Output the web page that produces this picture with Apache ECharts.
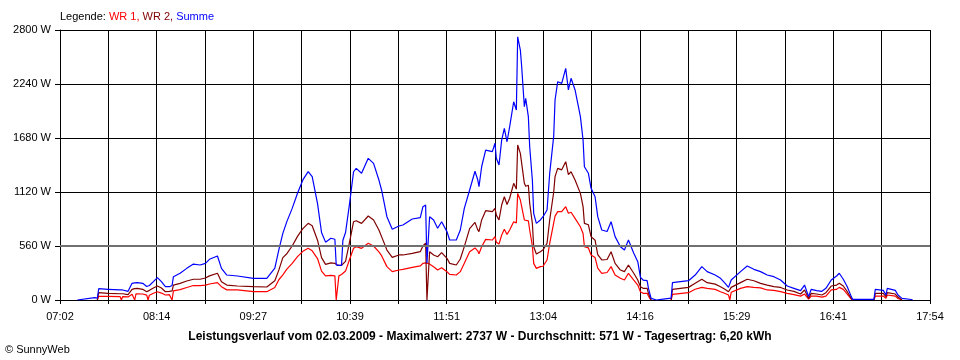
<!DOCTYPE html>
<html>
<head>
<meta charset="utf-8">
<script src="https://cdn.jsdelivr.net/npm/echarts@6/dist/echarts.min.js"></script>
<style>html,body{margin:0;padding:0;background:#fff;}#c{width:960px;height:360px;}</style>
</head>
<body>
<div id="c"></div>
<script>
const xTickLabels = ['07:02','08:14','09:27','10:39','11:51','13:04','14:16','15:29','16:41','17:54'];
const yTicks = [0, 560, 1120, 1680, 2240, 2800];

const times = ['07:15','07:28','07:30','07:31','07:38','07:47','07:48','07:49','07:53','07:56','07:58','07:59','08:00','08:04','08:07','08:08','08:09','08:12','08:15','08:18','08:21','08:24','08:25','08:26','08:27','08:32','08:37','08:42','08:47','08:51','08:54','09:00','09:03','09:07','09:15','09:27','09:37','09:38','09:43','09:46','09:49','09:52','09:56','10:00','10:04','10:08','10:11','10:15','10:18','10:21','10:25','10:28','10:29','10:30','10:31','10:33','10:34','10:36','10:39','10:42','10:44','10:48','10:53','10:57','11:01','11:03','11:07','11:11','11:16','11:19','11:26','11:32','11:34','11:36','11:37','11:38','11:39','11:42','11:45','11:48','11:52','11:54','11:59','12:02','12:05','12:09','12:13','12:15','12:16','12:18','12:21','12:26','12:28','12:29','12:31','12:33','12:35','12:37','12:39','12:42','12:44','12:45','12:47','12:48','12:50','12:51','12:53','12:54','12:56','12:57','12:59','13:02','13:04','13:07','13:09','13:12','13:13','13:15','13:18','13:21','13:23','13:25','13:28','13:32','13:34','13:35','13:38','13:40','13:43','13:45','13:48','13:52','13:55','13:58','14:02','14:05','14:08','14:12','14:15','14:17','14:19','14:22','14:23','14:24','14:25','14:29','14:34','14:40','14:41','14:53','14:58','15:03','15:07','15:13','15:17','15:20','15:23','15:24','15:25','15:32','15:37','15:42','15:47','15:52','15:57','16:02','16:07','16:12','16:17','16:20','16:23','16:25','16:29','16:33','16:36','16:40','16:44','16:46','16:49','16:52','16:55','16:56','17:00','17:12','17:13','17:19','17:21','17:22','17:28','17:30','17:33','17:40','17:41'];

const summe = [0,24,20,117,111,104,104,104,90,173,178,180,180,173,140,121,150,190,232,190,138,138,140,150,242,277,328,373,363,380,422,456,328,259,249,225,225,225,330,520,691,813,950,1107,1245,1331,1280,1000,700,600,640,630,365,360,360,360,620,700,1000,1330,1365,1314,1469,1417,1244,1141,864,733,767,778,840,854,968,985,385,380,864,830,744,812,709,622,622,726,950,1141,1335,1250,1175,1382,1555,1538,1625,1469,1400,1659,1780,1641,1797,2056,1970,2730,2592,2419,2004,2091,1901,1590,1244,899,795,830,864,933,1314,1700,2074,2264,2247,2402,2178,2299,2178,1901,1659,1382,1314,1158,1071,864,726,710,812,657,553,518,622,484,397,235,207,200,121,138,17,0,10,20,180,200,259,346,294,259,225,180,131,140,207,294,353,318,294,259,242,207,145,121,97,155,35,111,97,90,121,207,249,277,215,138,35,7,7,7,111,100,52,121,100,52,17,5,0];

const wr2 = [null,null,0,76,68,65,65,65,55,111,118,121,121,111,85,76,100,125,145,125,86,90,90,95,155,173,197,215,215,228,250,277,190,155,145,138,135,138,200,310,440,480,560,660,740,795,770,620,440,370,385,380,365,360,360,360,355,400,600,812,822,795,871,830,726,657,518,442,467,467,484,501,560,590,0,0,501,467,449,491,432,380,363,425,553,740,805,730,709,830,926,916,951,880,830,985,1071,990,1055,1210,1150,1607,1521,1417,1210,1180,1190,1003,795,553,477,501,520,588,830,1120,1279,1365,1350,1434,1300,1330,1244,1106,968,795,780,657,620,470,415,420,501,380,311,294,363,277,207,138,121,121,69,69,0,null,null,0,111,131,173,215,180,165,138,115,86,86,131,180,215,200,173,155,138,130,104,90,62,104,17,69,62,52,76,145,155,173,145,86,17,0,null,0,69,69,35,76,62,30,0,null,null];

const wr1 = [null,null,0,38,38,36,0,36,32,59,0,65,69,62,50,0,50,70,86,72,52,55,55,0,95,108,130,150,150,155,166,180,138,105,104,86,86,86,130,210,260,320,380,450,505,536,510,430,300,250,255,250,0,0,250,265,270,300,420,536,553,536,588,560,500,460,346,294,311,318,339,353,380,385,385,380,363,345,311,335,294,266,259,294,380,501,540,510,480,553,629,622,657,600,580,674,733,680,726,812,800,1106,1037,968,830,810,820,726,560,380,328,346,350,415,588,800,870,916,916,968,900,910,847,760,690,553,540,467,440,330,277,285,346,260,225,207,277,207,155,86,69,69,41,17,0,null,null,0,59,76,111,131,120,110,86,70,52,0,80,121,138,130,125,104,100,86,69,55,40,62,10,40,40,30,40,104,110,131,110,62,10,0,null,0,41,41,17,52,40,15,0,null,null];

function toMin(t){const p=t.split(':');return (+p[0])*60+(+p[1]);}
const t0 = toMin(xTickLabels[0]);
const t1 = toMin(xTickLabels[xTickLabels.length-1]);
const steps = (xTickLabels.length-1)*2;
function toX(t){return (toMin(t)-t0)*steps/(t1-t0);}
function build(arr){return times.map((t,i)=>[toX(t), arr[i]===null?'-':arr[i]]);}

const FONT = 'Liberation Sans, Arial, sans-serif';
const chart = echarts.init(document.getElementById('c'), null, {renderer:'canvas'});
chart.setOption({
  animation:false,
  backgroundColor:'#fff',
  title:[
    {left:60, top:11, padding:0, text:'{k|Legende: }{r|WR 1, }{d|WR 2, }{b|Summe}',
     textStyle:{fontFamily:FONT, fontSize:11, fontWeight:'normal', rich:{
       k:{color:'#000',fontFamily:FONT,fontSize:11},
       r:{color:'#ff0000',fontFamily:FONT,fontSize:11},
       d:{color:'#800000',fontFamily:FONT,fontSize:11},
       b:{color:'#0000ff',fontFamily:FONT,fontSize:11}}}},
    {left:'center', top:331, padding:0, text:'Leistungsverlauf vom 02.03.2009 - Maximalwert: 2737 W - Durchschnitt: 571 W - Tagesertrag: 6,20 kWh',
     textStyle:{fontFamily:FONT, fontSize:12, fontWeight:'bold', color:'#000'}},
    {left:5, top:344, padding:0, text:'© SunnyWeb', textStyle:{fontFamily:FONT, fontSize:11, fontWeight:'normal', color:'#000'}}
  ],
  grid:{left:60, top:30, width:870, height:270, containLabel:false},
  xAxis:{type:'value', min:0, max:steps, interval:1,
    axisLine:{show:true, lineStyle:{color:'#000', width:1}},
    axisTick:{show:true, length:4, lineStyle:{color:'#000'}},
    axisLabel:{margin:11, color:'#000', fontFamily:FONT, fontSize:11,
      formatter:function(v){const i=Math.round(v); return i%2===0 ? xTickLabels[i/2] : '';}},
    splitLine:{show:true, lineStyle:{color:'#000', width:1}}},
  yAxis:{type:'value', min:yTicks[0], max:yTicks[yTicks.length-1], interval:yTicks[1]-yTicks[0],
    axisLine:{show:true, lineStyle:{color:'#000', width:1}},
    axisTick:{show:true, length:5, lineStyle:{color:'#000'}},
    axisLabel:{margin:9, color:'#000', fontFamily:FONT, fontSize:11, formatter:function(v){return String(Math.round(v))+' W';}},
    splitLine:{show:true, lineStyle:{color:'#000', width:1}}},
  series:[
    {name:'WR 1', type:'line', data:build(wr1), showSymbol:false, lineStyle:{color:'#ff0000', width:1.2}, itemStyle:{color:'#ff0000'}, connectNulls:false,
     markLine:{silent:true, symbol:'none', label:{show:false}, lineStyle:{color:'#707070', width:2, type:'solid'}, data:[{yAxis:yTicks[1]}]}},
    {name:'WR 2', type:'line', data:build(wr2), showSymbol:false, lineStyle:{color:'#800000', width:1.2}, itemStyle:{color:'#800000'}, connectNulls:false},
    {name:'Summe', type:'line', data:build(summe), showSymbol:false, lineStyle:{color:'#0000ff', width:1.2}, itemStyle:{color:'#0000ff'}, connectNulls:false}
  ]
});
</script>
</body>
</html>
